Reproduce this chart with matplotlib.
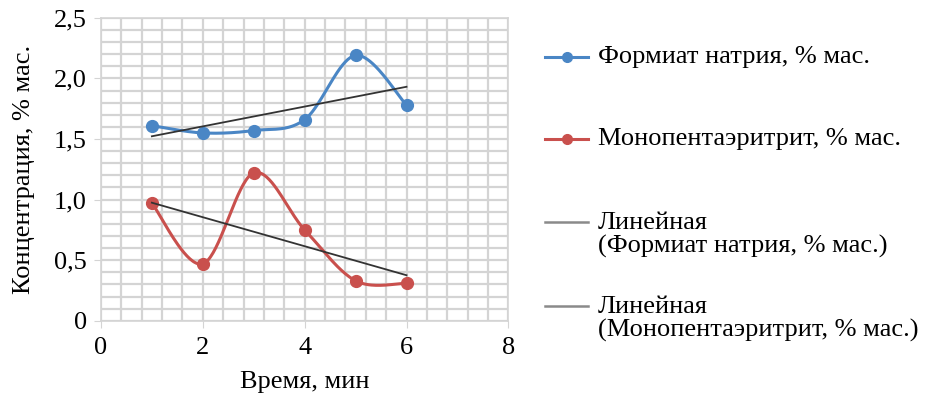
import matplotlib.pyplot as plt
import numpy as np
from matplotlib.lines import Line2D
from matplotlib.ticker import MultipleLocator, FuncFormatter

plt.rcParams['font.family'] = ['Liberation Serif', 'DejaVu Serif']

# data
time_min = [1, 2, 3, 4, 5, 6]
formate = [1.61, 1.55, 1.57, 1.66, 2.19, 1.78]
monopenta = [0.97, 0.47, 1.22, 0.75, 0.33, 0.31]

names = ['Формиат натрия, % мас.', 'Монопентаэритрит, % мас.']
trend_names = ['Линейная\n(Формиат натрия, % мас.)',
               'Линейная\n(Монопентаэритрит, % мас.)']

blue = '#4a86c5'
red = '#c9504d'
grid_col = '#d4d4d4'
FS = 19


def smooth(x, y, n=40):
    # Excel-like smoothed line (Catmull-Rom Bezier)
    x = np.asarray(x, float)
    y = np.asarray(y, float)
    px = np.concatenate([[x[0]], x, [x[-1]]])
    py = np.concatenate([[y[0]], y, [y[-1]]])
    xs, ys = [], []
    t = np.linspace(0, 1, n)
    for i in range(1, len(px) - 2):
        p0 = np.array([px[i], py[i]])
        p3 = np.array([px[i + 1], py[i + 1]])
        p1 = p0 + (np.array([px[i + 1], py[i + 1]]) - np.array([px[i - 1], py[i - 1]])) / 6
        p2 = p3 - (np.array([px[i + 2], py[i + 2]]) - np.array([px[i], py[i]])) / 6
        b = ((1 - t) ** 3)[:, None] * p0 + (3 * (1 - t) ** 2 * t)[:, None] * p1 \
            + (3 * (1 - t) * t ** 2)[:, None] * p2 + (t ** 3)[:, None] * p3
        xs.extend(b[:, 0])
        ys.extend(b[:, 1])
    return xs, ys


fig = plt.figure(figsize=(9.26, 3.96), dpi=100)
ax = fig.add_axes([0.109, 0.19, 0.44, 0.765])

for y, c in [(formate, blue), (monopenta, red)]:
    sx, sy = smooth(time_min, y)
    ax.plot(sx, sy, color=c, lw=2.2, zorder=3)
    ax.plot(time_min, y, 'o', color=c, ms=8.5, zorder=4)
    k, b = np.polyfit(time_min, y, 1)
    xx = np.array([time_min[0], time_min[-1]])
    ax.plot(xx, k * xx + b, color='#333333', lw=1.3, zorder=5)

ax.set_xlim(0, 8)
ax.set_ylim(0, 2.5)
ax.xaxis.set_major_locator(MultipleLocator(2))
ax.xaxis.set_minor_locator(MultipleLocator(0.4))
ax.yaxis.set_major_locator(MultipleLocator(0.5))
ax.yaxis.set_minor_locator(MultipleLocator(0.1))
ax.yaxis.set_major_formatter(FuncFormatter(
    lambda v, p: '0' if v == 0 else ('%.1f' % v).replace('.', ',')))
ax.grid(which='both', color=grid_col, lw=1.6)
ax.set_axisbelow(True)
for s in ax.spines.values():
    s.set_color(grid_col)
    s.set_linewidth(1.2)
ax.tick_params(which='major', length=5, color=grid_col, labelsize=FS)
ax.tick_params(axis='x', pad=7)
ax.tick_params(axis='y', pad=5)
ax.tick_params(which='minor', length=0)
ax.set_xlabel('Время, мин', fontsize=FS, labelpad=8)
ax.set_ylabel('Концентрация, % мас.', fontsize=FS, labelpad=14)

# legend drawn by hand to follow the original layout
W, H = 926, 396
def fx(px):
    return px / W
def fy(py):
    return 1 - py / H

handles = [(blue, 'o', 57, names[0], 57),
           (red, 'o', 139, names[1], 139),
           ('#8a8a8a', None, 222, trend_names[0], 235),
           ('#8a8a8a', None, 306, trend_names[1], 319)]
for col, mk, ly, txt, ty in handles:
    fig.add_artist(Line2D([fx(545), fx(588)], [fy(ly), fy(ly)], color=col,
                          lw=2.2 if mk else 1.8, transform=fig.transFigure))
    if mk:
        fig.add_artist(Line2D([fx(566.5)], [fy(ly)], color=col, marker='o', ms=7,
                              transform=fig.transFigure))
    fig.text(fx(598), fy(ty), txt, fontsize=FS, va='center', ha='left',
             linespacing=1.05)

fig.savefig('out.png', dpi=100)
